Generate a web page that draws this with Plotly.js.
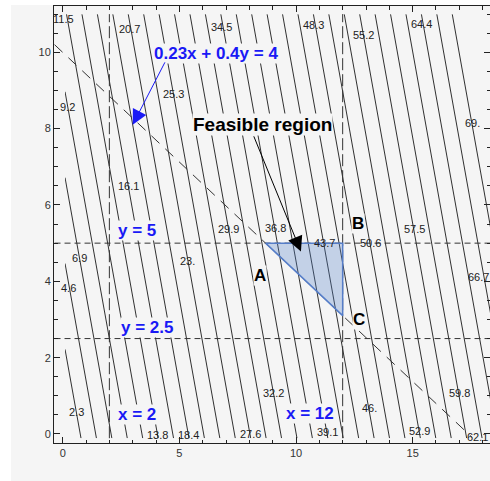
<!DOCTYPE html>
<html>
<head>
<meta charset="utf-8">
<script src="https://cdn.plot.ly/plotly-3.0.1.min.js"></script>
<style>
  html, body { margin: 0; padding: 0; background: #ffffff; width: 490px; height: 481px; overflow: hidden; }
  #chart { position: absolute; left: 11px; top: 5px; width: 479px; height: 476px; }
</style>
</head>
<body>
<div id="chart"></div>
<script>
// ---- data ----
const gridX = [0.1, 18.6];                 // contour domain corners (x)
const gridY = [-0.11, 11.0];               // contour domain corners (y)
const gridZ = [[-0.08, 64.27], [11.28, 75.62]]; // objective values at the corners
const levelFirst = 2.3, levelLast = 69, levelStep = 2.3;

const labelValues = [2.3, 4.6, 6.9, 9.2, 11.5, 13.8, 16.1, 18.4, 20.7, 23, 25.3, 27.6, 29.9, 32.2,
                     34.5, 36.8, 39.1, 43.7, 46, 48.3, 50.6, 52.9, 55.2, 57.5, 59.8, 62.1, 64.4, 66.7, 69];

const verticalX = [2, 12];
const horizontalY = [5, 2.5];
const diagX = [-0.35, 17.55];
const diagY = [10.2, -0.09];
const feasX = [8.696, 12, 12];
const feasY = [5, 5, 3.1];

// ---- layout positions for contour labels ----
const labelPosX = [0.58, 0.26, 0.72, 0.21, 0.05, 4.08, 2.81, 5.4, 2.88, 5.35, 4.74, 8.04, 7.1, 9.04,
                   6.79, 9.1, 11.33, 11.22, 13.13, 10.76, 13.18, 15.31, 12.9, 15.08, 17.02, 17.8, 15.39, 17.82, 17.56];
const labelPosY = [0.58, 3.83, 4.6, 8.56, 10.86, -0.03, 6.5, -0.03, 10.62, 4.53, 8.9, 0.0, 5.36, 1.08,
                   10.66, 5.4, 0.04, 5.0, 0.67, 10.71, 5.0, 0.08, 10.46, 5.36, 1.08, -0.09, 10.75, 4.12, 8.14];

const FONT = 'Liberation Sans, Arial, sans-serif';
const BG = '#f5f5f5';
const BLUE = 'rgb(25,25,245)';

function fmt(v) {
  return Number.isInteger(v) ? v + '.' : v.toFixed(1);
}

const traces = [];
traces.push({
  type: 'contour',
  x: gridX, y: gridY, z: gridZ,
  autocontour: false,
  contours: { coloring: 'none', start: levelFirst, end: levelLast + 0.01, size: levelStep, showlabels: false },
  line: { color: '#1a1a1a', width: 0.9, smoothing: 0 },
  showscale: false, hoverinfo: 'skip'
});

verticalX.forEach(v => traces.push({
  type: 'scatter', mode: 'lines', x: [v, v], y: [gridY[0], gridY[1]],
  line: { color: '#333333', width: 1, dash: '12px,4px' }, hoverinfo: 'skip', showlegend: false
}));
horizontalY.forEach(v => traces.push({
  type: 'scatter', mode: 'lines', x: [-0.35, gridX[1]], y: [v, v],
  line: { color: '#333333', width: 1, dash: '6px,4px' }, hoverinfo: 'skip', showlegend: false
}));
traces.push({
  type: 'scatter', mode: 'lines', x: diagX, y: diagY,
  line: { color: '#333333', width: 1, dash: '11px,8px' }, hoverinfo: 'skip', showlegend: false
});
traces.push({
  type: 'scatter', mode: 'lines', x: feasX.concat([feasX[0]]), y: feasY.concat([feasY[0]]),
  fill: 'toself', fillcolor: 'rgba(80,125,200,0.3)',
  line: { color: 'rgb(85,125,200)', width: 1.5 }, hoverinfo: 'skip', showlegend: false
});

const annotations = [];
labelValues.forEach((v, i) => annotations.push({
  x: labelPosX[i], y: labelPosY[i], xref: 'x', yref: 'y', text: fmt(v), showarrow: false,
  font: { family: FONT, size: 11, color: '#222222' }
}));

function bigText(txt, x, y, color, size) {
  return { x: x, y: y, xref: 'x', yref: 'y', text: '<b>' + txt + '</b>', showarrow: false,
           font: { family: FONT, size: size, color: color }, bgcolor: BG, borderpad: 0 };
}
annotations.push(bigText('0.23x + 0.4y = 4', 6.55, 9.97, BLUE, 17));
annotations.push(bigText('Feasible region', 8.585, 8.12, '#000000', 19));
annotations.push(bigText('y = 5', 3.18, 5.34, BLUE, 17));
annotations.push(bigText('y = 2.5', 3.63, 2.80, BLUE, 17));
annotations.push(bigText('x = 2', 3.18, 0.52, BLUE, 17));
annotations.push(bigText('x = 12', 10.58, 0.54, BLUE, 17));
annotations.push(bigText('A', 8.46, 4.14, '#000000', 17));
annotations.push(bigText('B', 12.65, 5.52, '#000000', 17));
annotations.push(bigText('C', 12.72, 2.99, '#000000', 17));

// arrows
annotations.push({ x: 3.0, y: 8.1, xref: 'x', yref: 'y', text: '', showarrow: true,
  ax: 33, ay: -64, arrowhead: 2, arrowsize: 3, arrowwidth: 1, arrowcolor: BLUE, standoff: 0 });
annotations.push({ x: 10.21, y: 4.78, xref: 'x', yref: 'y', text: '', showarrow: true,
  ax: -47.7, ay: -116.7, arrowhead: 2, arrowsize: 3, arrowwidth: 1, arrowcolor: '#000000', standoff: 0 });

// axis titles
annotations.push({ x: 9.01, y: -0.99, xref: 'x', yref: 'y', text: 'Supply voltage', showarrow: false,
  font: { family: FONT, size: 11, color: '#222222' } });
annotations.push({ x: -1.745, y: 5.5, xref: 'x', yref: 'y', text: 'Threshold voltage', showarrow: false,
  textangle: -90, font: { family: FONT, size: 11, color: '#222222' } });

const axisCommon = {
  showgrid: false, zeroline: false, showline: true, linecolor: '#222222', linewidth: 1,
  mirror: 'allticks', ticks: 'inside', ticklen: 6, tickcolor: '#222222', tickwidth: 1,
  tickfont: { family: FONT, size: 11, color: '#333333' }
};

const layout = {
  width: 479, height: 476,
  margin: { l: 43, r: 0, t: 1, b: 38 },
  paper_bgcolor: BG, plot_bgcolor: BG,
  showlegend: false,
  xaxis: Object.assign({}, axisCommon, {
    range: [-0.373, 18.315], tickmode: 'array', tickvals: [0, 5, 10, 15],
    minor: { dtick: 1, tick0: 0, ticks: 'inside', ticklen: 3.5, tickcolor: '#222222' }
  }),
  yaxis: Object.assign({}, axisCommon, {
    range: [-0.236, 11.213], tickmode: 'array', tickvals: [0, 2, 4, 6, 8, 10],
    minor: { dtick: 0.5, tick0: 0, ticks: 'inside', ticklen: 3.5, tickcolor: '#222222' }
  }),
  annotations: annotations
};

Plotly.newPlot('chart', traces, layout, { displayModeBar: false, staticPlot: true });
</script>
</body>
</html>
